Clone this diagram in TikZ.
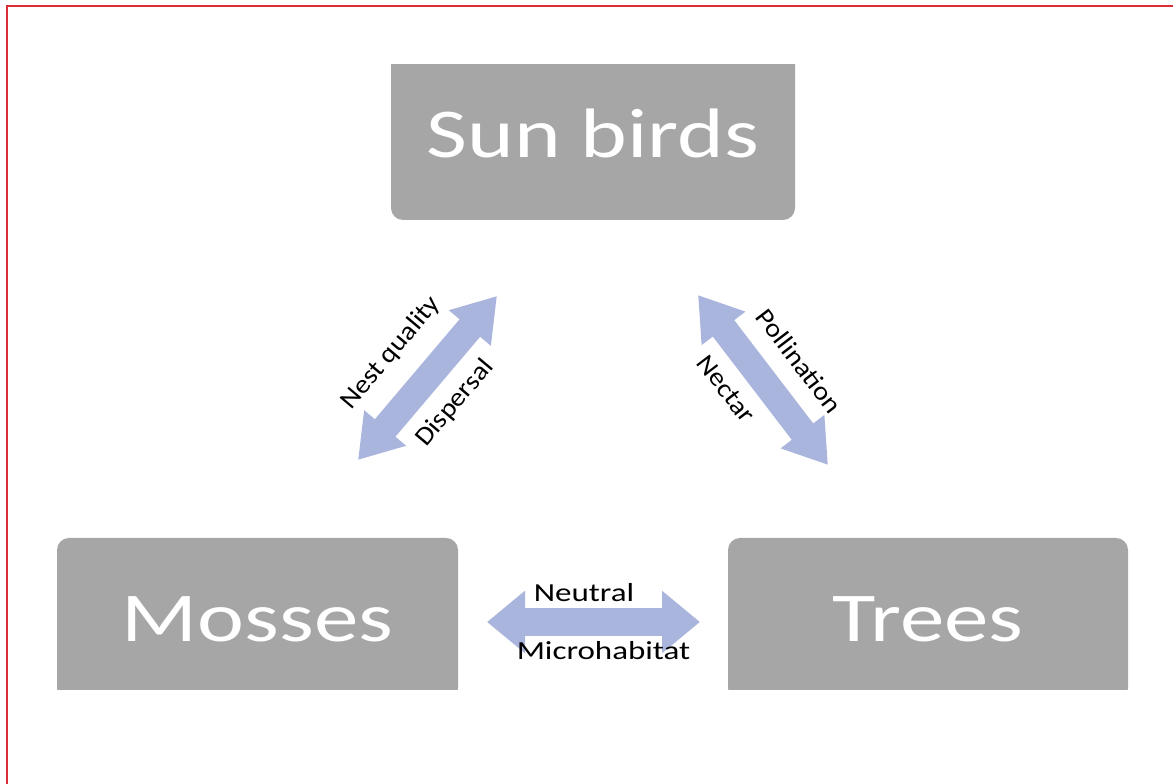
\documentclass[tikz,border=0pt]{standalone}
\usepackage{fontspec}
\usetikzlibrary{arrows.meta}
\newfontfamily\boxfont[FakeStretch=1.27]{Carlito}
\newfontfamily\labfont[FakeStretch=1.27]{Carlito}
\newfontfamily\rotfont[FakeStretch=1.1]{Carlito}
\definecolor{boxgray}{RGB}{166,166,166}
\definecolor{arrowblue}{RGB}{170,181,221}
\definecolor{framered}{RGB}{218,45,55}
\tikzset{
  box/.style={fill=boxgray, rounded corners=12pt, inner sep=0pt, text=white,
    font=\boxfont\fontsize{70}{84}\selectfont, text height=45pt, text depth=0pt},
  lab/.style={inner sep=0pt, text=black, font=\labfont\fontsize{26}{30}\selectfont},
  rlab/.style={inner sep=0pt, text=black, font=\rotfont\fontsize{26}{30}\selectfont},
  diagarrow/.style={arrowblue, line width=27pt,
    {Triangle[width=52pt,length=42pt]}-{Triangle[width=52pt,length=42pt]}},
  horarrow/.style={arrowblue, line width=28pt,
    {Triangle[width=60pt,length=38pt]}-{Triangle[width=60pt,length=38pt]}},
}
\begin{document}
\begin{tikzpicture}[x=1pt,y=1pt]
\useasboundingbox (0,0) rectangle (1173,784);
\fill[white] (0,0) rectangle (1173,784);
% frame
\draw[framered, line width=2.5pt] (7,0) -- (7,778) -- (1173,778);
% boxes
\begin{scope}
\clip (0,94) rectangle (1173,719);
\node[box, minimum width=404pt, minimum height=169pt] (sun) at (593,648.5) {Sun birds};
\node[box, minimum width=401pt, minimum height=162pt] (mosses) at (257.5,165) {Mosses};
\node[box, minimum width=400pt, minimum height=162pt] (trees) at (928,165) {Trees};
\end{scope}
% arrow end points
\coordinate (dL1) at (358,324);
\coordinate (dL2) at (497,488);
\coordinate (dR1) at (698,489);
\coordinate (dR2) at (828,319);
\coordinate (hL) at (487,162);
\coordinate (hR) at (700,162);
\draw[diagarrow] (dL1) -- (dL2);
\draw[diagarrow] (dR1) -- (dR2);
\draw[horarrow] (hL) -- (hR);
% labels
\node[rlab, rotate=50] (nest) at (391,431) {Nest quality};
\node[rlab, rotate=50] (disp) at (455,381) {Dispersal};
\node[rlab, rotate=-52.6] (poll) at (799,423) {Pollination};
\node[rlab, rotate=-52.6] (nect) at (726,395) {Nectar};
\node[lab, anchor=base] (neut) at (584,182) {Neutral};
\node[lab, anchor=base] (micro) at (603.5,124) {Microhabitat};
\end{tikzpicture}
\end{document}
